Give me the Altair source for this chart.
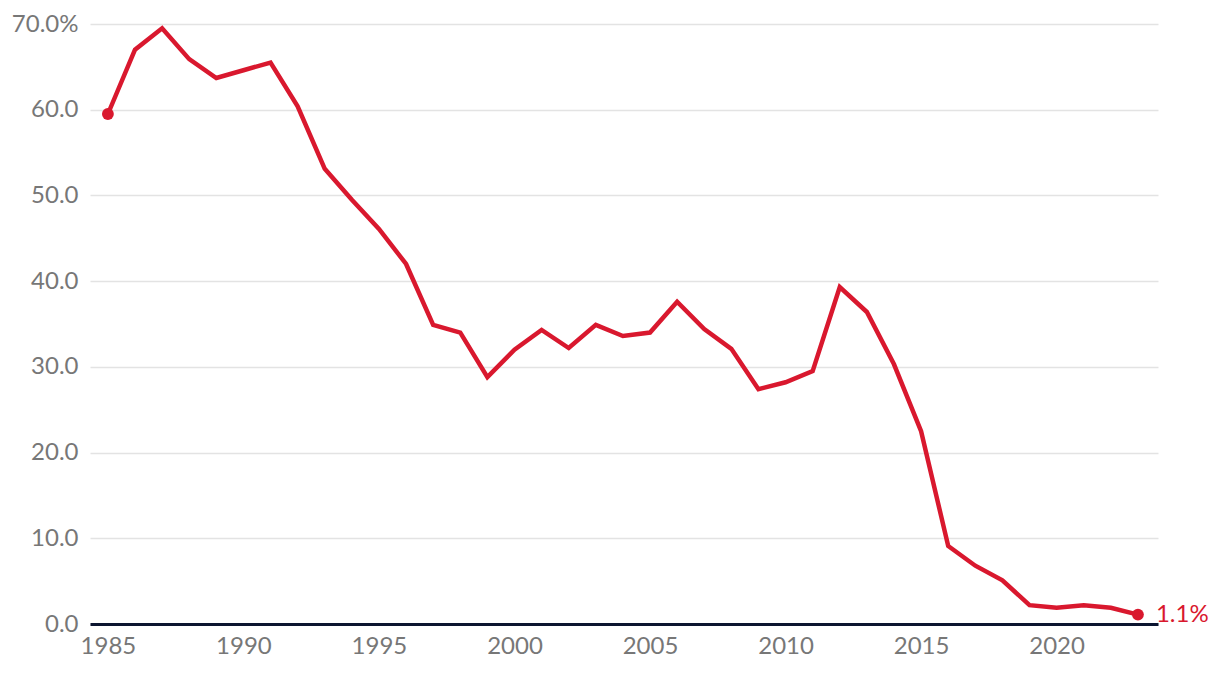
import altair as alt
import pandas as pd

years = list(range(1985, 2024))
values = [59.5, 67.0, 69.5, 65.9, 63.7, 64.6, 65.5, 60.4, 53.1, 49.5,
          46.1, 42.0, 34.9, 34.0, 28.8, 32.0, 34.3, 32.2, 34.9, 33.6,
          34.0, 37.6, 34.4, 32.1, 27.4, 28.2, 29.5, 39.3, 36.4, 30.3,
          22.5, 9.1, 6.8, 5.1, 2.2, 1.9, 2.2, 1.9, 1.1]
x_ticks = [1985, 1990, 1995, 2000, 2005, 2010, 2015, 2020]
y_ticks = [0, 10, 20, 30, 40, 50, 60, 70]
end_label = "1.1%"

df = pd.DataFrame({"year": years, "value": values})
ends = df.iloc[[0, -1]].reset_index(drop=True)
last = df.iloc[[-1]].assign(label=end_label)

RED = "#d9182e"
FONT = "Lato"
FS = 24

x = alt.X("year:Q", scale=alt.Scale(domain=[1984.34, 2023.74], nice=False, zero=False),
          axis=alt.Axis(values=x_ticks, format="d", title=None, grid=False, ticks=False,
                        domainColor="#0c1530", domainWidth=3, labelFontSize=FS,
                        labelColor="#777777", labelFont=FONT, labelPadding=10))
y = alt.Y("value:Q", scale=alt.Scale(domain=[0, 70], nice=False),
          axis=alt.Axis(values=y_ticks, title=None, ticks=False, domain=False,
                        gridColor="#e3e3e3", gridWidth=1.5, labelFontSize=FS,
                        labelColor="#777777", labelFont=FONT, labelPadding=12,
                        labelExpr="datum.value == 70 ? '70.0%' : format(datum.value, '.1f')"))

line = alt.Chart(df).mark_line(color=RED, strokeWidth=4.5, strokeJoin="miter").encode(x=x, y=y)
pts = alt.Chart(ends).mark_circle(color=RED, size=140, opacity=1).encode(x="year:Q", y="value:Q")
txt = alt.Chart(last).mark_text(align="left", baseline="middle", dx=18, fontSize=FS,
                                font=FONT, color=RED).encode(x="year:Q", y="value:Q", text="label:N")

chart = (line + pts + txt).properties(
    width=1068, height=600,
    background="white",
    autosize=alt.AutoSizeParams(type="none"),
    padding={"left": 90, "top": 24, "right": 62, "bottom": 54},
).configure_view(strokeWidth=0, stroke="transparent")

chart.save("out.html", embed_options={"renderer": "svg", "actions": False})
